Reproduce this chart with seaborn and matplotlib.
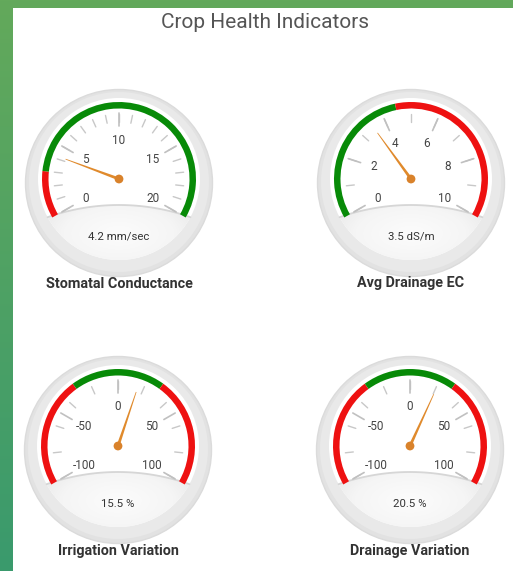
import numpy as np
import matplotlib
matplotlib.use("Agg")
import matplotlib.pyplot as plt
from matplotlib.patches import Wedge, Circle, Polygon, Rectangle
from matplotlib.colors import LinearSegmentedColormap
import seaborn as sns
import pandas as pd

# ---------------- data ----------------
chart_title = "Crop Health Indicators"
gauge_titles = ["Stomatal Conductance", "Avg Drainage EC", "Irrigation Variation", "Drainage Variation"]
gauge_values = [4.2, 3.5, 15.5, 20.5]
gauge_units = ["mm/sec", "dS/m", "%", "%"]
gauge_min = [0, 0, -100, -100]
gauge_max = [20, 10, 100, 100]
label_step = [5, 2, 50, 50]
minor_step = [1, 1, 20, 20]
band_edges = [[0, 3, 20], [0, 4.5, 10], [-100, -30, 30, 100], [-100, -30, 30, 100]]
band_colors = [["red", "green"], ["green", "red"], ["red", "green", "red"], ["red", "green", "red"]]

# ---------------- style ----------------
sns.set_theme(style="white")
plt.rcParams['font.family'] = ['Roboto', 'DejaVu Sans']

W, H, DPI = 513, 571, 100
fig = plt.figure(figsize=(W / DPI, H / DPI), dpi=DPI)
ax = fig.add_axes([0, 0, 1, 1])
ax.set_xlim(0, W)
ax.set_ylim(0, H)
ax.axis('off')

COL = {"red": "#ee1111", "green": "#078a07"}

# background frame
grad = np.linspace(0, 1, 256).reshape(-1, 1)
cm_bg = LinearSegmentedColormap.from_list("bg", ["#3a9a6d", "#63a95b"])
ax.imshow(grad, extent=[0, W, 0, H], origin='lower', cmap=cm_bg, aspect='auto', zorder=0)
ax.add_patch(Rectangle((12.5, 0), W - 12.5, H - 7.5, fc='white', ec='none', zorder=1))

ax.text(265, H - 23, chart_title, ha='center', va='center', fontsize=15,
        color='#555555', zorder=5)

# layout (pixel positions of gauge pivots)
pivots_px = [(119, 179), (411, 179), (118, 446), (410, 446)]

def ang(v, lo, hi):
    return 210.0 - 240.0 * (v - lo) / (hi - lo)

def pol(cx, cy, r, a):
    t = np.deg2rad(a)
    return cx + r * np.cos(t), cy + r * np.sin(t)

cm_plate = LinearSegmentedColormap.from_list("pl", ["#fcfcfc", "#f5f5f5", "#e0e0e0"])

dots = []
for i in range(4):
    px, py = pivots_px[i]
    cx, cy = px, H - py
    lo, hi = gauge_min[i], gauge_max[i]

    # outer ring
    ax.add_patch(Circle((cx, cy - 4), 93.5, fc='#e2e2e2', ec='#dbdbdb', lw=1, zorder=2))
    ax.add_patch(Circle((cx, cy - 3), 90, fc='#e9e9e9', ec='none', zorder=2))
    ax.add_patch(Circle((cx, cy), 81, fc='white', ec='none', zorder=2))

    # bottom plate: intersection of disc r=81 and big circle below
    R_big, off = 215.0, 26.0
    bcy = cy - off - R_big
    r_d = 81.0
    yi = ((R_big ** 2 - r_d ** 2) - (off + R_big) ** 2) / (2 * (off + R_big))
    xi = np.sqrt(r_d ** 2 - yi ** 2)
    a1 = np.degrees(np.arctan2(yi + off + R_big, xi))
    a2 = 180 - a1
    t_big = np.radians(np.linspace(a1, a2, 80))
    b0 = np.degrees(np.arctan2(yi, -xi)) % 360
    b1 = np.degrees(np.arctan2(yi, xi)) % 360
    t_disc = np.radians(np.linspace(b0, b1, 80))
    xs = np.concatenate([cx + R_big * np.cos(t_big), cx + r_d * np.cos(t_disc)])
    ys = np.concatenate([bcy + R_big * np.sin(t_big), cy + r_d * np.sin(t_disc)])
    plate = Polygon(np.column_stack([xs, ys]), closed=True, fc='none', ec='none', zorder=3)
    ax.add_patch(plate)
    gx, gy = np.meshgrid(np.linspace(-85, 85, 120), np.linspace(-85, 0, 60))
    dist = np.sqrt((gx / 80.0) ** 2 + ((gy + 55) / 40.0) ** 2)
    im = ax.imshow(np.clip(dist, 0, 1.4), extent=[cx - 85, cx + 85, cy - 85, cy],
                   origin='lower', cmap=cm_plate, vmin=0, vmax=1.4, zorder=3,
                   interpolation='bilinear', aspect='auto')
    im.set_clip_path(plate)
    ax.plot(cx + R_big * np.cos(t_big), bcy + R_big * np.sin(t_big), color='#d6d6d6',
            lw=1.3, zorder=3.5)

    # color bands
    edges = band_edges[i]
    for j, c in enumerate(band_colors[i]):
        t0, t1 = ang(edges[j + 1], lo, hi), ang(edges[j], lo, hi)
        ax.add_patch(Wedge((cx, cy), 77, t0, t1, width=6.5, fc=COL[c], ec='none', zorder=4))

    # minor ticks
    for v in np.arange(lo, hi + 1e-9, minor_step[i]):
        a = ang(v, lo, hi)
        x0, y0 = pol(cx, cy, 57, a)
        x1, y1 = pol(cx, cy, 65, a)
        ax.plot([x0, x1], [y0, y1], color='#c8c8c8', lw=1, zorder=4)
    # major ticks + labels
    for v in np.arange(lo, hi + 1e-9, label_step[i]):
        a = ang(v, lo, hi)
        x0, y0 = pol(cx, cy, 53, a)
        x1, y1 = pol(cx, cy, 66, a)
        ax.plot([x0, x1], [y0, y1], color='#c0c0c0', lw=1.2, zorder=4)
        lx, ly = pol(cx, cy, 39, a)
        ax.text(lx, ly, f"{v:g}", ha='center', va='center', fontsize=8.5, color='#444444', zorder=5)

    # needle
    val = gauge_values[i]
    a = np.radians(ang(val, lo, hi))
    d = np.array([np.cos(a), np.sin(a)])
    p = np.array([-d[1], d[0]])
    base = np.array([cx, cy])
    tip = base + 57 * d
    needle = [base + 1.5 * p, tip + 0.35 * p, tip - 0.35 * p, base - 1.5 * p]
    ax.add_patch(Polygon(needle, closed=True, fc='#e08a2c', ec='none', zorder=6))
    dots.append((cx, cy))

    # value and title
    ax.text(cx, cy - 58, f"{val:g} {gauge_units[i]}", ha='center', va='center',
            fontsize=8.2, color='#333333', zorder=6)
    ax.text(cx, cy - 104.5, gauge_titles[i], ha='center', va='center', fontsize=10.4,
            fontweight='bold', color='#333333', zorder=6)

dot_df = pd.DataFrame(dots, columns=["x", "y"])
sns.scatterplot(data=dot_df, x="x", y="y", ax=ax, s=40, color='#d9822b', edgecolor='none', zorder=7)
ax.set_xlim(0, W)
ax.set_ylim(0, H)
ax.axis('off')

fig.savefig("out.png", dpi=DPI)
